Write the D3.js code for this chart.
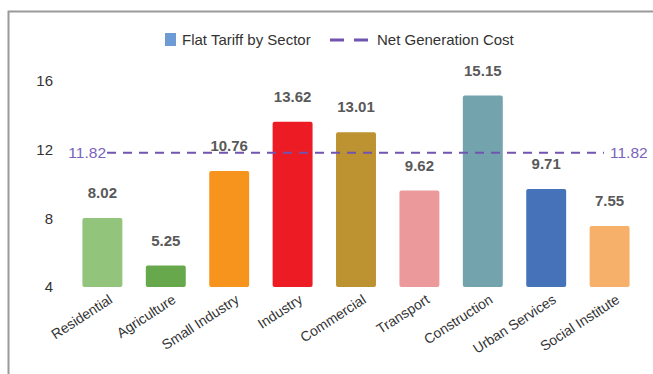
<!DOCTYPE html>
<html>
<head>
<meta charset="utf-8">
<script src="https://cdn.jsdelivr.net/npm/d3@7"></script>
<style>
  body { margin: 0; background: #fff; }
  svg { font-family: "Liberation Sans", Arial, sans-serif; }
</style>
</head>
<body>
<div id="chart"></div>
<script>
const sectors = ["Residential", "Agriculture", "Small Industry", "Industry", "Commercial",
    "Transport", "Construction", "Urban Services", "Social Institute"];
const tariffs = [8.02, 5.25, 10.76, 13.62, 13.01, 9.62, 15.15, 9.71, 7.55];
const barColors = ["#92c47b", "#68a84d", "#f7941d", "#ed1c24", "#bd9230",
    "#eb999b", "#73a4ad", "#4572b8", "#f6b06a"];
const netCost = 11.82;
const yTicks = [4, 8, 12, 16];

const width = 653, height = 374;
const margin = { top: 81, right: 12, bottom: 87, left: 71 };

const svg = d3.select("#chart")
    .append("svg")
    .attr("width", width)
    .attr("height", height);

// frame of the chart box (cut off right and bottom)
svg.append("path")
    .attr("d", `M8.5,${height} V11.5 H${width}`)
    .attr("fill", "none")
    .attr("stroke", "#9a9a9a")
    .attr("stroke-width", 2);

const x = d3.scaleBand()
    .domain(sectors)
    .range([margin.left, width - margin.right])
    .paddingInner(0.37)
    .paddingOuter(0.18);

const y = d3.scaleLinear()
    .domain([4, 16])
    .range([height - margin.bottom, margin.top]);

// y axis labels only
const yAxis = d3.axisLeft(y).tickValues(yTicks).tickSize(0).tickPadding(0);
const yAxisGroup = svg.append("g")
    .attr("transform", `translate(53,0)`)
    .call(yAxis);
yAxisGroup.select(".domain").remove();
yAxisGroup.selectAll("text")
    .attr("font-size", 15)
    .attr("font-family", "Liberation Sans, Arial, sans-serif")
    .attr("fill", "#333");

// bars
svg.append("g").selectAll("rect")
    .data(tariffs)
    .join("rect")
    .attr("x", (d, i) => x(sectors[i]))
    .attr("y", d => y(d))
    .attr("width", x.bandwidth())
    .attr("height", d => y(4) - y(d))
    .attr("rx", 2)
    .attr("fill", (d, i) => barColors[i]);

// value labels
svg.append("g").selectAll("text")
    .data(tariffs)
    .join("text")
    .attr("x", (d, i) => x(sectors[i]) + x.bandwidth() / 2)
    .attr("y", d => y(d) - 20)
    .attr("text-anchor", "middle")
    .attr("font-size", 15)
    .attr("font-weight", "bold")
    .attr("fill", "#595959")
    .text(d => d.toFixed(2));

// x labels
const xAxis = d3.axisBottom(x).tickSize(0).tickPadding(0);
const xAxisGroup = svg.append("g")
    .attr("transform", `translate(0,${y(4)})`)
    .call(xAxis);
xAxisGroup.select(".domain").remove();
xAxisGroup.selectAll("text")
    .attr("font-size", 14)
    .attr("font-family", "Liberation Sans, Arial, sans-serif")
    .attr("fill", "#333")
    .attr("text-anchor", "end")
    .attr("dy", 0)
    .attr("transform", "translate(11,15) rotate(-33)");

// net generation cost line
const lineY = y(netCost);
svg.append("line")
    .attr("x1", 107)
    .attr("x2", 604)
    .attr("y1", lineY)
    .attr("y2", lineY)
    .attr("stroke", "#7154b0")
    .attr("stroke-width", 2)
    .attr("stroke-dasharray", "9,7");

svg.append("text")
    .attr("x", 106)
    .attr("y", lineY + 5)
    .attr("text-anchor", "end")
    .attr("font-size", 15.5)
    .attr("fill", "#7a62bd")
    .text(netCost.toFixed(2));

svg.append("text")
    .attr("x", 610)
    .attr("y", lineY + 5)
    .attr("font-size", 15.5)
    .attr("fill", "#7a62bd")
    .text(netCost.toFixed(2));

// legend
const legend = svg.append("g").attr("transform", "translate(165,40)");
legend.append("rect")
    .attr("x", 0).attr("y", -7)
    .attr("width", 11).attr("height", 13)
    .attr("fill", "#6d9bd3");
legend.append("text")
    .attr("x", 17).attr("y", 5)
    .attr("font-size", 15)
    .attr("fill", "#333")
    .text("Flat Tariff by Sector");
legend.append("line")
    .attr("x1", 165).attr("x2", 203)
    .attr("y1", 0).attr("y2", 0)
    .attr("stroke", "#7154b0")
    .attr("stroke-width", 3)
    .attr("stroke-dasharray", "14,10");
legend.append("text")
    .attr("x", 212).attr("y", 5)
    .attr("font-size", 15)
    .attr("fill", "#333")
    .text("Net Generation Cost");
</script>
</body>
</html>
